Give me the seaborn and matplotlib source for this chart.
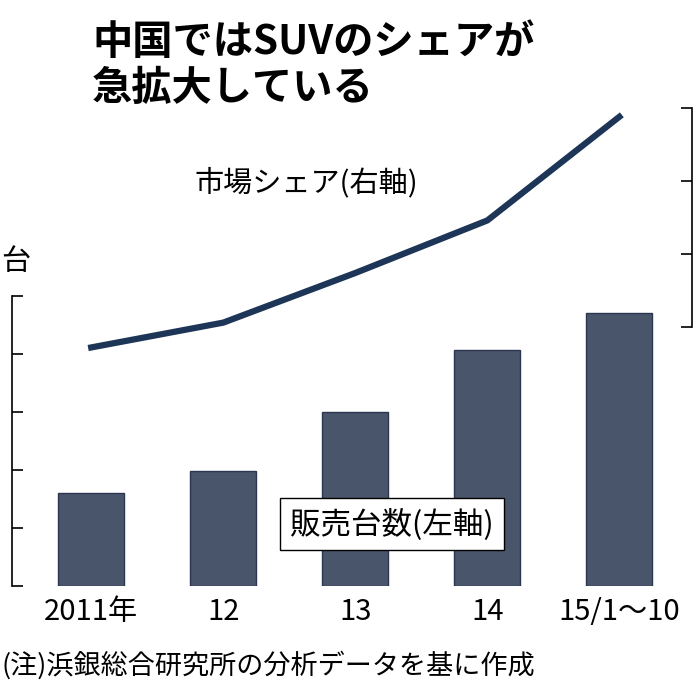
import matplotlib
matplotlib.use("Agg")
import matplotlib.pyplot as plt
import seaborn as sns
import pandas as pd

plt.rcParams["font.family"] = "Noto Sans CJK JP"

categories = ["2011年", "12", "13", "14", "15/1～10"]
sales = [1.6, 1.98, 3.0, 4.07, 4.7]        # 販売台数 (百万台)
share = [13.6, 15.3, 18.7, 22.3, 29.4]     # 市場シェア (%)
left_ticks = [0, 1, 2, 3, 4, 5]
right_ticks = [15, 20, 25, 30]

df = pd.DataFrame({"cat": categories, "sales": sales, "share": share})

fig = plt.figure(figsize=(6.96, 6.96), dpi=100)
ax = fig.add_axes([12/696, 1-586/696, (692-12)/696, (586-100)/696])
sns.barplot(data=df, x="cat", y="sales", color="#44536f", width=0.5, ax=ax,
            edgecolor="#2b3650", linewidth=1)
ax.set_ylim(0, (586-100)/58)
ax.set_xlim(-0.6, 4.55)
ax.set_xlabel(""); ax.set_ylabel("")
ax.set_yticks(left_ticks)
ax.tick_params(axis="y", length=8, width=1.2, labelleft=False, direction="in")
ax.tick_params(axis="x", length=0, labelsize=21, pad=8)
for s in ["top", "right", "bottom"]:
    ax.spines[s].set_visible(False)
ax.spines["left"].set_bounds(0, 5)
ax.spines["left"].set_linewidth(1.2)

ax2 = ax.twinx()
sns.lineplot(x=range(5), y=share, color="#1d3557", lw=4.5, ax=ax2)
ax2.set_ylim(30 - 478/14.6, 30 + 8/14.6)
ax2.set_yticks(right_ticks)
ax2.tick_params(axis="y", length=8, width=1.2, labelright=False, direction="in")
for s in ["top", "left", "bottom"]:
    ax2.spines[s].set_visible(False)
ax2.spines["right"].set_bounds(15, 30)
ax2.spines["right"].set_linewidth(1.2)

fig.text(92/696, 1-43/696, "中国ではSUVのシェアが", fontsize=29, fontweight="bold", va="center")
fig.text(92/696, 1-88/696, "急拡大している", fontsize=29, fontweight="bold", va="center")
fig.text(195/696, 1-183/696, "市場シェア(右軸)", fontsize=21, va="center")
fig.text(1/696, 1-262/696, "台", fontsize=21, va="center")
fig.text(290/696, 1-524/696, "販売台数(左軸)", fontsize=22, va="center",
         bbox=dict(facecolor="white", edgecolor="black", lw=1, pad=7))
fig.text(2/696, 1-665/696, "(注)浜銀総合研究所の分析データを基に作成", fontsize=19.5, va="center")
fig.savefig("out.png", dpi=100)
